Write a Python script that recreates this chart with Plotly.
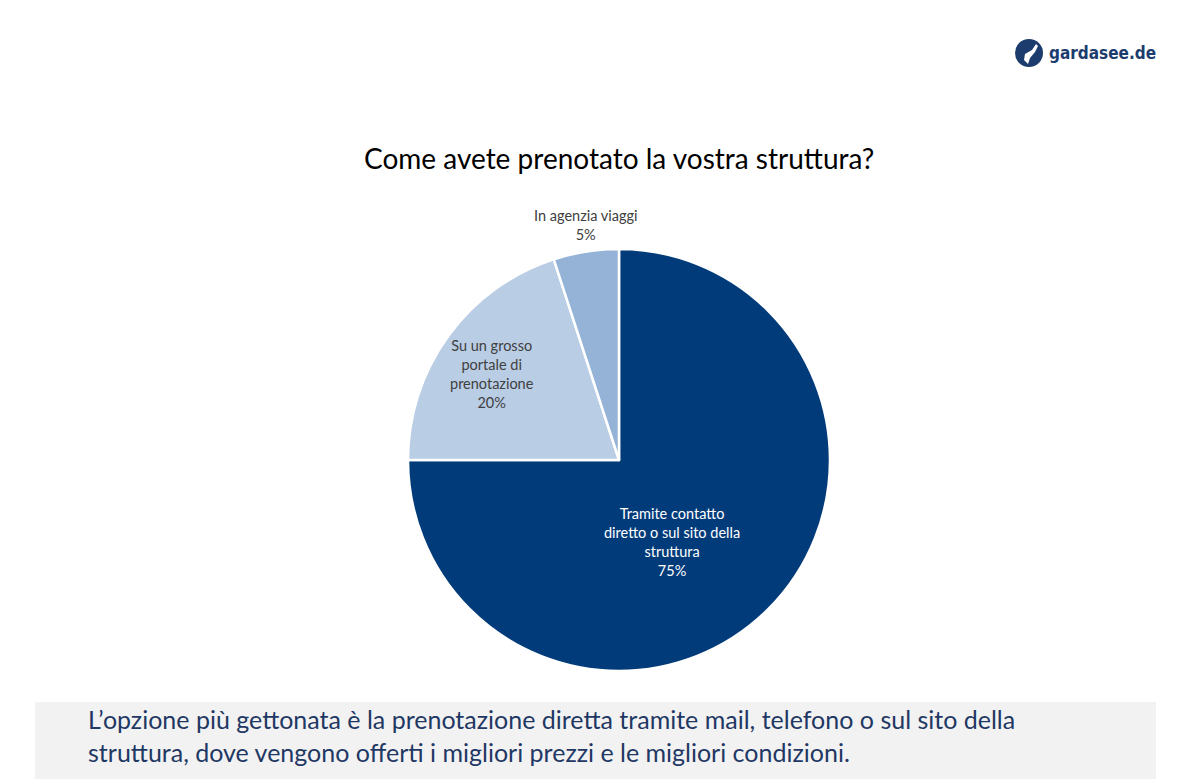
import plotly.graph_objects as go

labels = ["Tramite contatto<br>diretto o sul sito della<br>struttura",
          "Su un grosso<br>portale di<br>prenotazione",
          "In agenzia viaggi"]
values = [75, 20, 5]
colors = ["#023B7A", "#B9CDE5", "#95B3D7"]
text_colors = ["#FFFFFF", "#404040", "#404040"]
# label anchor positions in pixels (styling)
label_pos = [(672, 542), (492, 374), (585, 225)]

W, H = 1203, 779
cx, cy, r = 619, 460, 211

fig = go.Figure(go.Pie(
    labels=labels, values=values, sort=False, direction="clockwise", rotation=0,
    marker=dict(colors=colors, line=dict(color="white", width=2.5)),
    textinfo="none",
    showlegend=False, hoverinfo="label+percent",
    domain=dict(x=[(cx - r) / W, (cx + r) / W], y=[(H - cy - r) / H, (H - cy + r) / H]),
))

total = sum(values)
annotations = []
for lab, v, tc, (px, py) in zip(labels, values, text_colors, label_pos):
    annotations.append(dict(
        text=f"{lab}<br>{round(100 * v / total)}%", x=px / W, y=(H - py) / H,
        xref="paper", yref="paper", showarrow=False, xanchor="center", yanchor="middle",
        align="center", font=dict(size=14.5, color=tc, family="Lato")))

annotations += [
    dict(text="Come avete prenotato la vostra struttura?", x=619 / W, y=(H - 158) / H,
         xref="paper", yref="paper", showarrow=False, xanchor="center", yanchor="middle",
         font=dict(size=28, color="#000000", family="Lato")),
    dict(text="L’opzione più gettonata è la prenotazione diretta tramite mail, telefono o sul sito della<br>"
              "struttura, dove vengono offerti i migliori prezzi e le migliori condizioni.",
         x=86 / W, y=(H - 735) / H, xref="paper", yref="paper", showarrow=False,
         xanchor="left", yanchor="middle", align="left",
         font=dict(size=25, color="#1F3864", family="Lato")),
    dict(text="<b>gardasee.de</b>", x=1158 / W, y=(H - 53) / H, xref="paper", yref="paper",
         showarrow=False, xanchor="right", yanchor="middle",
         font=dict(size=17, color="#1D3C6E", family="DejaVu Sans Condensed, Roboto")),
]

fig.update_layout(
    width=W, height=H, margin=dict(l=0, r=0, t=0, b=0),
    paper_bgcolor="white", plot_bgcolor="white",
    font=dict(family="Lato"),
    shapes=[
        dict(type="rect", xref="paper", yref="paper", x0=35 / W, x1=1156 / W,
             y0=0, y1=(H - 702) / H, fillcolor="#F2F2F2", line=dict(width=0), layer="below"),
        dict(type="circle", xref="paper", yref="paper",
             x0=(1029 - 14) / W, x1=(1029 + 14) / W, y0=(H - 53 - 14) / H, y1=(H - 53 + 14) / H,
             fillcolor="#1D3C6E", line=dict(width=0)),
        dict(type="path", xref="paper", yref="paper",
             path=" ".join([
                 f"M {1036/W} {(H-44)/H}", f"L {1032/W} {(H-50)/H}", f"L {1025/W} {(H-54)/H}",
                 f"L {1024/W} {(H-60)/H}", f"L {1028/W} {(H-64)/H}", f"L {1030/W} {(H-58)/H}",
                 f"L {1035/W} {(H-52)/H}", f"L {1038/W} {(H-46)/H}", "Z"]),
             fillcolor="white", line=dict(width=0)),
    ],
    annotations=annotations,
)

fig.write_html("out.html")
